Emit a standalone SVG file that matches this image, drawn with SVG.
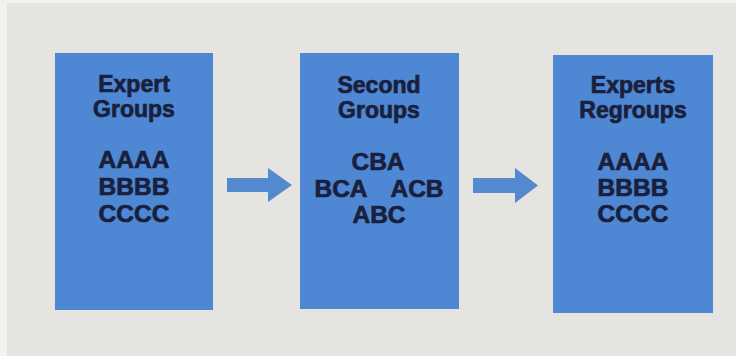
<svg xmlns="http://www.w3.org/2000/svg" width="736" height="356" viewBox="0 0 736 356">
  <style>
    .box { fill: #4e87d3; }
    .arrow { fill: #5489cf; }
    .t { font-family: "Liberation Sans", Arial, sans-serif; font-weight: bold; fill: #1a1f3c; stroke: #1a1f3c; stroke-width: 0.7; text-anchor: middle; }
    .title { font-size: 23px; }
    .code { font-size: 24.5px; }
  </style>
  <!-- page and panel -->
  <rect x="0" y="0" width="736" height="356" fill="#f3f2ef"/>
  <rect x="7" y="3" width="729" height="353" fill="#e6e4e0"/>

  <g id="connectors">
    <polygon class="arrow" points="227,178 268,178 268,168 292,185 268,202 268,192 227,192"/>
    <polygon class="arrow" points="473,178 515,178 515,168 538,185.5 515,203 515,193 473,193"/>
  </g>

  <g id="expert-groups">
    <rect class="box" x="55" y="53" width="158" height="257"/>
    <text class="t title" x="134" y="92">Expert</text>
    <text class="t title" x="134" y="117">Groups</text>
    <text class="t code" x="134" y="168">AAAA</text>
    <text class="t code" x="134" y="195">BBBB</text>
    <text class="t code" x="134" y="222">CCCC</text>
  </g>

  <g id="second-groups">
    <rect class="box" x="300" y="53" width="159" height="256"/>
    <text class="t title" x="379" y="93">Second</text>
    <text class="t title" x="379" y="118">Groups</text>
    <text class="t code" x="378" y="170">CBA</text>
    <text class="t code" x="341" y="197">BCA</text>
    <text class="t code" x="417" y="197">ACB</text>
    <text class="t code" x="379" y="223">ABC</text>
  </g>

  <g id="experts-regroups">
    <rect class="box" x="553" y="55" width="160" height="258"/>
    <text class="t title" x="633" y="93">Experts</text>
    <text class="t title" x="633" y="118">Regroups</text>
    <text class="t code" x="633" y="170">AAAA</text>
    <text class="t code" x="633" y="196">BBBB</text>
    <text class="t code" x="633" y="222">CCCC</text>
  </g>
</svg>
